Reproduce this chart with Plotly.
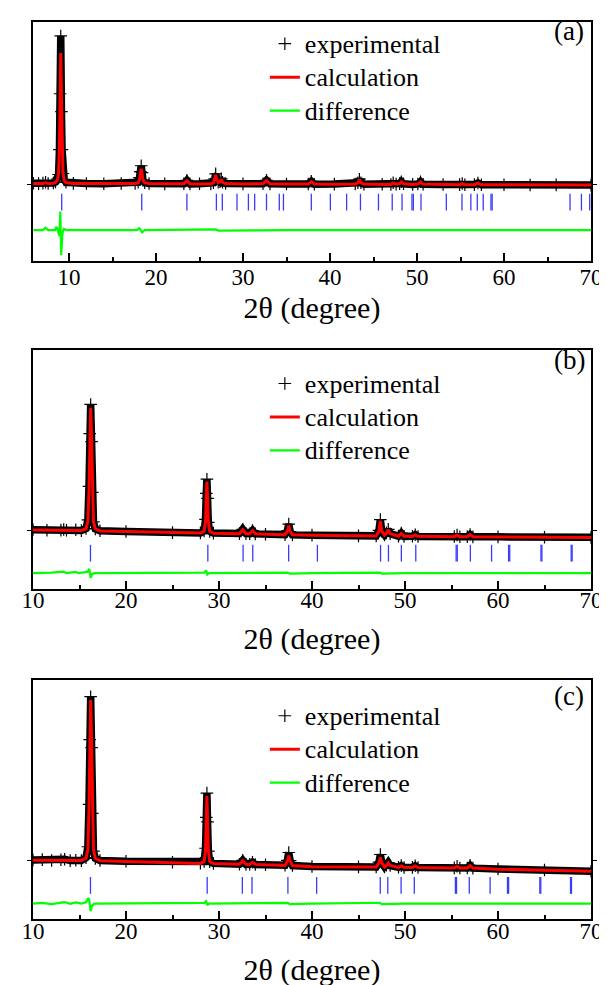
import plotly.graph_objects as go

# ---------------- Panel (a) ----------------
x_a = [5.9, 6.5, 7.0, 7.3, 7.6, 8.2, 8.45, 8.65, 8.8, 8.9, 8.97, 9.05, 9.13, 9.2, 9.3, 9.45, 9.65,
       10.5, 12.0, 14.0, 16.0, 17.6, 17.95, 18.1, 18.2, 18.3, 18.4, 18.5, 18.7, 19.2, 21.0,
       23.2, 23.55, 23.9, 25.0, 26.3, 26.6, 26.75, 26.86, 26.97, 27.15, 27.35, 27.5, 27.65, 28.0,
       30.0, 32.3, 32.7, 33.1, 35.0, 37.5, 37.85, 38.2, 40.5, 42.9, 43.2, 43.38, 43.55, 43.9,
       46.0, 47.0, 47.26, 47.6, 48.0, 48.2, 48.45, 49.5, 50.1, 50.4, 50.7, 53.0, 54.9, 55.2, 55.5,
       56.6, 57.0, 57.4, 60.0, 63.0, 66.0, 70.0]
calc_a = [7800, 7800, 7810, 7880, 7810, 7820, 7900, 8100, 8900, 11500, 16500, 20900, 16500, 11500, 8900, 8100, 7900,
          7800, 7790, 7790, 7780, 7790, 7880, 8180, 8780, 9280, 8780, 8180, 7880, 7790, 7770,
          7770, 8060, 7770, 7760, 7760, 7860, 8210, 8660, 8210, 7910, 7960, 8210, 7910, 7790,
          7750, 7770, 8090, 7770, 7740, 7740, 7990, 7740, 7730, 7740, 7870, 8170, 7870, 7740,
          7710, 7710, 7860, 7730, 7780, 7950, 7780, 7700, 7740, 7950, 7740, 7690, 7680, 7780, 7680,
          7680, 7830, 7680, 7670, 7660, 7650, 7650]
obs_a = [7820, 7790, 7840, 7920, 7800, 7850, 7950, 8250, 8700, 11200, 16800, 22600, 15000, 11200, 8800, 8150, 7920,
         7810, 7800, 7770, 7800, 7800, 7930, 8380, 8980, 9580, 8880, 8130, 7880, 7800, 7760,
         7780, 8110, 7760, 7770, 7750, 7880, 8260, 8760, 8230, 7920, 7980, 8260, 7920, 7800,
         7760, 7780, 8120, 7760, 7750, 7750, 8020, 7730, 7740, 7750, 7880, 8230, 7880, 7730,
         7720, 7700, 7880, 7740, 7790, 7980, 7770, 7710, 7750, 7980, 7730, 7700, 7690, 7800, 7670,
         7690, 7850, 7670, 7680, 7650, 7660, 7640]
xd_a = [5.9, 7.0, 7.3, 7.6, 8.4, 8.55, 8.7, 8.9, 9.0, 9.1, 9.25, 9.4, 9.7, 12.0, 17.8, 18.1, 18.4, 18.7,
        23.5, 26.9, 27.2, 35.0, 45.0, 55.0, 70.0]
diff_a = [0, 0, 230, 0, 0, 350, 0, -600, 1850, -2500, -300, 100, 0, 0, 0, 170, -230, 0,
          0, 60, -60, 0, 0, 0, 0]
bragg_a = [9.16, 18.36, 23.55, 26.94, 27.62, 29.31, 30.62, 31.34, 32.70, 34.17, 34.65, 37.85, 40.04,
           41.91, 43.50, 45.57, 47.15, 48.28, 49.42, 49.58, 50.46, 53.37, 55.17, 56.19, 56.93, 57.61,
           58.50, 58.64, 67.59, 68.90, 69.85]

# ---------------- Panel (b) ----------------
x_b = [10.0, 11.5, 13.0, 13.3, 13.6, 14.6, 15.2, 15.7, 15.9, 16.02, 16.1, 16.2, 16.3, 16.38, 16.5, 16.7, 17.2,
       20.0, 25.0, 28.0, 28.4, 28.55, 28.63, 28.7, 28.77, 28.85, 29.0, 29.4, 32.2, 32.55, 32.9, 33.3, 33.6, 33.9,
       35.0, 37.1, 37.35, 37.5, 37.65, 37.9, 40.0, 45.0, 46.9, 47.2, 47.35, 47.5, 47.8, 48.0, 48.2, 48.4,
       49.3, 49.6, 49.9, 50.8, 51.1, 51.4, 55.3, 55.6, 55.9, 56.7, 57.0, 57.3, 60.0, 65.0, 70.0]
calc_b = [5930, 5910, 5890, 5900, 5880, 5870, 5880, 6050, 6800, 9800, 15000, 18200, 15000, 9800, 6800, 6050, 5840,
          5770, 5680, 5620, 5800, 6800, 9200, 10800, 9200, 6800, 5800, 5610, 5560, 5960, 5560, 5550, 5850, 5550,
          5500, 5460, 5800, 6370, 5800, 5450, 5400, 5330, 5330, 5830, 6830, 5830, 5420, 5620, 5950, 5570,
          5300, 5590, 5300, 5290, 5440, 5290, 5260, 5410, 5260, 5250, 5450, 5250, 5230, 5210, 5180]
obs_b = [5950, 5900, 5920, 5980, 5900, 5960, 5870, 6080, 6950, 10300, 15600, 18530, 14800, 9700, 6750, 6030, 5850,
         5780, 5670, 5640, 5830, 7000, 9600, 11030, 9100, 6700, 5790, 5620, 5570, 6000, 5570, 5560, 5880, 5540,
         5510, 5470, 5850, 6520, 5780, 5440, 5410, 5340, 5340, 5900, 6980, 5800, 5430, 5640, 5990, 5560,
         5310, 5620, 5290, 5300, 5460, 5280, 5270, 5430, 5250, 5260, 5470, 5240, 5240, 5200, 5190]
xd_b = [10.0, 11.5, 12.0, 13.3, 13.6, 14.6, 14.9, 15.6, 15.9, 16.05, 16.2, 16.35, 16.6, 17.5, 20.0, 25.0,
        28.4, 28.6, 28.75, 28.9, 30.0, 37.4, 37.6, 40.0, 47.3, 47.5, 50.0, 60.0, 70.0]
diff_b = [0, 0, 60, 150, 0, 120, 0, 100, 150, 430, -470, -100, 0, 0, 0, 0,
          50, 270, -130, 0, 0, 50, -50, 0, 60, -40, 0, 0, 0]
bragg_b = [16.18, 28.80, 32.59, 33.63, 37.49, 40.58, 47.37, 48.22, 49.61, 51.16, 55.50, 55.62,
           57.03, 59.31, 61.14, 61.26, 64.62, 64.72, 67.87, 67.97]

# ---------------- Panel (c) ----------------
x_c = [10.0, 11.0, 12.0, 13.0, 13.4, 14.0, 14.6, 15.2, 15.7, 15.9, 16.02, 16.1, 16.2, 16.3, 16.38, 16.5, 16.7, 17.2,
       20.0, 25.0, 28.0, 28.4, 28.55, 28.63, 28.7, 28.77, 28.85, 29.0, 29.4, 32.2, 32.55, 32.9, 33.3, 33.6, 33.9,
       35.0, 37.1, 37.35, 37.5, 37.65, 37.9, 40.0, 45.0, 46.9, 47.2, 47.35, 47.5, 47.8, 48.0, 48.2, 48.4,
       49.3, 49.6, 49.9, 50.8, 51.1, 51.4, 55.3, 55.6, 55.9, 56.7, 57.0, 57.3, 60.0, 65.0, 70.0]
calc_c = [5900, 5900, 5890, 5880, 5890, 5880, 5870, 5880, 6100, 7000, 11000, 17500, 21970, 17500, 11000, 7000, 6100, 5850,
          5780, 5680, 5580, 5760, 6900, 9900, 12370, 9900, 6900, 5760, 5570, 5490, 5840, 5490, 5480, 5680, 5480,
          5430, 5380, 5800, 6370, 5800, 5370, 5250, 5220, 5210, 5620, 6180, 5620, 5220, 5380, 5610, 5370,
          5180, 5330, 5180, 5170, 5320, 5170, 5120, 5270, 5120, 5110, 5350, 5110, 5000, 4900, 4800]
obs_c = [5920, 5960, 5870, 5950, 6000, 5860, 5900, 5860, 6150, 7250, 11500, 18000, 22300, 17200, 10600, 6800, 6080, 5870,
         5800, 5700, 5600, 5780, 7100, 10200, 12630, 9750, 6800, 5750, 5580, 5500, 5880, 5480, 5490, 5700, 5470,
         5440, 5390, 5880, 6670, 5850, 5360, 5260, 5230, 5220, 5700, 6470, 5650, 5230, 5400, 5650, 5360,
         5190, 5350, 5170, 5180, 5340, 5160, 5130, 5290, 5110, 5120, 5380, 5100, 5010, 4910, 4790]
xd_c = [10.0, 11.0, 12.0, 13.0, 13.4, 14.0, 14.6, 15.2, 15.7, 15.95, 16.05, 16.2, 16.35, 16.6, 17.5, 20.0,
        25.0, 28.4, 28.6, 28.75, 28.9, 30.0, 37.4, 37.6, 40.0, 47.3, 47.5, 50.0, 60.0, 70.0]
diff_c = [0, 60, -60, 80, 150, -30, 120, 0, 120, 560, 300, -770, -200, 0, 0, 0,
          0, 60, 230, -170, 0, 0, 60, -60, 0, 80, -50, 0, 0, 0]
bragg_c = [16.18, 28.73, 32.51, 33.55, 37.41, 40.50, 47.34, 48.15, 49.58, 51.00, 55.42, 55.54,
           56.91, 59.15, 61.02, 61.14, 64.50, 64.60, 67.80, 67.90]

series_names = ["experimental", "calculation", "difference"]
panel_labels = ["(a)", "(b)", "(c)"]
x_tick_vals = [10, 20, 30, 40, 50, 60, 70]
x_minor_vals = [15, 25, 35, 45, 55, 65]
x_title = "2θ (degree)"

panels = [
    dict(x=x_a, calc=calc_a, obs=obs_a, xd=xd_a, diff=diff_a, bragg=bragg_a),
    dict(x=x_b, calc=calc_b, obs=obs_b, xd=xd_b, diff=diff_b, bragg=bragg_b),
    dict(x=x_c, calc=calc_c, obs=obs_c, xd=xd_c, diff=diff_c, bragg=bragg_c),
]

# plotting style parameters
FONT = "Liberation Serif, Times New Roman, serif"
diff_offset = [3130, 1600, 1550]
bragg_level = [5930, 3600, 3370]
y_tick = [7700, 5900, 5900]
x_ranges = [[5.86, 70], [10, 70], [10, 70]]
y_domains = [[0.7333, 1.0], [0.3678, 0.6344], [0.0, 0.2667]]
legend_y = [1.0, 0.6212, 0.2508]
label_y = [0.990, 0.6231, 0.2486]
tick_standoff = [-6, -10, -9]
title_standoff = [8, 16, 16]

fig = go.Figure()
for i, p in enumerate(panels):
    sfx = "" if i == 0 else str(i + 1)
    xa, ya = "x" + sfx, "y" + sfx
    lg = "legend" + sfx
    # experimental: thick band plus "+" markers
    fig.add_trace(go.Scatter(x=p["x"], y=p["obs"], mode="lines", line=dict(color="black", width=7.5),
                             xaxis=xa, yaxis=ya, showlegend=False, hoverinfo="skip"))
    fig.add_trace(go.Scatter(x=p["x"], y=p["obs"], mode="markers",
                             name="<span style='font-size:26px'>%s</span>" % series_names[0],
                             marker=dict(symbol="cross-thin", size=9, line=dict(color="black", width=1.2)),
                             xaxis=xa, yaxis=ya, legend=lg))
    fig.add_trace(go.Scatter(x=p["x"], y=p["calc"], mode="lines",
                             name="<span style='font-size:26px'>%s</span>" % series_names[1],
                             line=dict(color="#ff0000", width=3), xaxis=xa, yaxis=ya, legend=lg))
    fig.add_trace(go.Scatter(x=p["xd"], y=[d + diff_offset[i] for d in p["diff"]], mode="lines",
                             name="<span style='font-size:26px'>%s</span>" % series_names[2],
                             line=dict(color="#00ff00", width=2.2), xaxis=xa, yaxis=ya, legend=lg))
    fig.add_trace(go.Scatter(x=p["bragg"], y=[bragg_level[i]] * len(p["bragg"]), mode="markers",
                             marker=dict(symbol="line-ns", size=12, line=dict(color="#3a3aff", width=1.3)),
                             xaxis=xa, yaxis=ya, showlegend=False, hoverinfo="skip"))

    fig.layout["xaxis" + sfx] = dict(
        range=x_ranges[i], anchor=ya, domain=[0, 1], showline=True, linewidth=1.5, linecolor="black",
        mirror=True, showgrid=False, zeroline=False, ticks="inside", ticklen=8, tickwidth=1.5,
        tickcolor="black", tickvals=x_tick_vals, ticklabelstandoff=tick_standoff[i],
        minor=dict(tickvals=x_minor_vals, ticks="inside", ticklen=4, tickwidth=1.5, tickcolor="black"),
        tickfont=dict(family=FONT, size=23, color="black"),
        title=dict(text=x_title, font=dict(family=FONT, size=30, color="black"), standoff=title_standoff[i]),
    )
    fig.layout["yaxis" + sfx] = dict(
        range=[0, 24000], anchor=xa, domain=y_domains[i], showline=True, linewidth=1.5, linecolor="black",
        mirror="ticks", showgrid=False, zeroline=False, showticklabels=False, ticks="outside",
        ticklen=4, tickwidth=1.2, tickcolor="black", tickvals=[y_tick[i]],
    )
    fig.layout[lg] = dict(x=0.4155, y=legend_y[i], xanchor="left", yanchor="top", bgcolor="rgba(0,0,0,0)",
                          font=dict(family=FONT, size=23.4, color="black"), tracegroupgap=0)
    fig.add_annotation(text=panel_labels[i], x=0.961, y=label_y[i], xref="paper", yref="paper",
                       xanchor="center", yanchor="middle", showarrow=False,
                       font=dict(family=FONT, size=27, color="black"))

fig.update_layout(width=607, height=985, margin=dict(l=25, r=14, t=13, b=72),
                  paper_bgcolor="white", plot_bgcolor="white", showlegend=True)
fig.write_html("out.html")
